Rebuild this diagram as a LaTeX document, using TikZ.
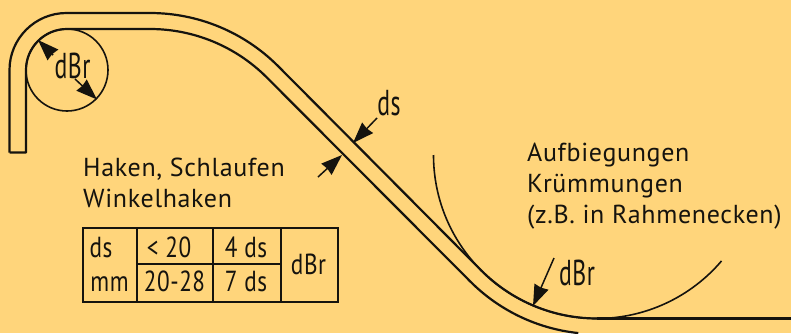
\documentclass[tikz,border=0pt]{standalone}
\usepackage{fontspec}
\setmainfont[LetterSpace=2.5]{PT Sans}
\usetikzlibrary{arrows.meta}
\definecolor{bgc}{HTML}{FFD57B}
\definecolor{ink}{HTML}{15130E}
\newcommand{\cond}[2][.8]{\scalebox{#1}[1]{#2}}
\tikzset{
  bar/.style={draw=ink,line width=2.2pt,line join=round},
  thinl/.style={draw=ink,line width=1.6pt},
  dim/.style={draw=ink,line width=1.5pt,-{Stealth[inset=1pt,length=21pt,width=15pt]}},
  lab/.style={anchor=base west,inner sep=0pt,text=ink,font=\fontsize{26}{30}\selectfont},
  tlab/.style={anchor=base,inner sep=0pt,text=ink,font=\fontsize{29}{30}\selectfont},
  blab/.style={anchor=base,inner sep=0pt,text=ink,font=\fontsize{36}{40}\selectfont},
  grid/.style={draw=ink,line width=2pt}
}
\begin{document}
\begin{tikzpicture}[x=1pt,y=1pt,yscale=-1]
\path[fill=bgc] (0,0) rectangle (791,333);
\useasboundingbox (0,0) rectangle (791,333);
% bar, outer and inner edge
\draw[bar] (9.5,152.5) -- (9.5,70) arc[start angle=180,end angle=270,radius=57pt] -- (150,13)
  arc[start angle=270,end angle=315,radius=181pt] -- (481.4,270.6)
  arc[start angle=135,end angle=90,radius=163.5pt] -- (791,318.5);
\draw[bar] (9.5,152.5) -- (26,152.5) -- (26,70) arc[start angle=180,end angle=270,radius=41pt] -- (150,29)
  arc[start angle=270,end angle=315,radius=165pt] -- (470.4,281.6)
  arc[start angle=135,end angle=96,radius=179pt];
% bend circles
\coordinate (cs) at (67,70);
\draw[thinl] (cs) circle[radius=41pt];
\coordinate (cb) at (597,155);
\draw[thinl] (433.5,155) arc[start angle=180,end angle=40.4,radius=163.5pt];
\draw[bar,line width=3pt] (597,318.5) -- (791,318.5);
% labels
\node[blab] (dbr1) at (72.5,78) {\cond[.66]{dBr}};
\coordinate (a1) at (53,55); \coordinate (a1t) at (38,40);
\coordinate (a2) at (75,79); \coordinate (a2t) at (97,99.5);
\draw[dim] (a1) -- (a1t);
\draw[dim] (a2) -- (a2t);
\node[blab] (ds) at (389,115) {\cond[.66]{ds}};
\coordinate (u0) at (377,118); \coordinate (u1) at (353,143);
\coordinate (l0) at (318,177); \coordinate (l1) at (342,155);
\draw[dim] (u0) -- (u1);
\draw[dim] (l0) -- (l1);
\node[blab] (dbr2) at (577,285) {\cond[.66]{dBr}};
\coordinate (b0) at (554,258); \coordinate (b1) at (533,306);
\draw[dim] (b0) -- (b1);
\node[lab] (t1) at (83,176) {Haken, Schlaufen};
\node[lab] (t2) at (83,207) {Winkelhaken};
\node[lab] (t3) at (527,161) {Aufbiegungen};
\node[lab] (t4) at (527,192) {Krümmungen};
\node[lab] (t5) at (527,223) {(z.B. in Rahmenecken)};
% table
\draw[grid] (82.7,228.3) rectangle (337.7,302.3);
\draw[grid] (136.7,228.3) -- (136.7,302.3) (212.7,228.3) -- (212.7,302.3) (281,228.3) -- (281,302.3) (136.7,264) -- (281,264);
\node[tlab] (c1) at (101,257) {\cond[.8]{ds}};
\node[tlab] (c2) at (109.5,291.5) {\cond[.8]{mm}};
\node[tlab] (c3) at (169,257) {\cond[.8]{< 20}};
\node[tlab] (c4) at (174.5,291.5) {\cond[.8]{20-28}};
\node[tlab] (c5) at (246,257) {\cond[.8]{4 ds}};
\node[tlab] (c6) at (246,291.5) {\cond[.8]{7 ds}};
\node[tlab] (c7) at (308.5,274) {\cond[.8]{dBr}};
\end{tikzpicture}
\end{document}
